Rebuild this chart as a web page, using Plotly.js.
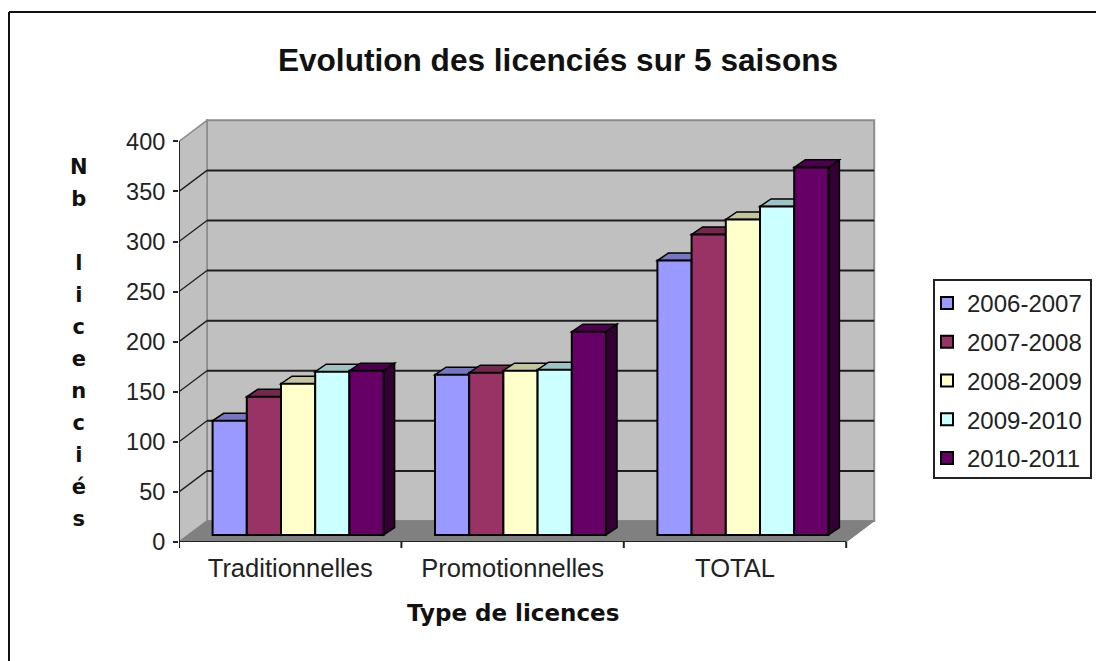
<!DOCTYPE html>
<html><head><meta charset="utf-8">
<script src="https://cdn.plot.ly/plotly-3.0.1.min.js"></script>
<style>html,body{margin:0;padding:0;background:#fff;overflow:hidden}</style>
</head><body><div id="chart" style="width:1096px;height:661px"></div>
<script>
const categories = ["Traditionnelles", "Promotionnelles", "TOTAL"];
const seasons = ["2006-2007", "2007-2008", "2008-2009", "2009-2010", "2010-2011"];
const s0607 = [114, 160, 274];
const s0708 = [138, 162, 300];
const s0809 = [151, 164, 315];
const s0910 = [163, 165, 328];
const s1011 = [164, 203, 367];
const seriesValues = [s0607, s0708, s0809, s0910, s1011];
const frontColors = ["#9999FF", "#993366", "#FFFFCC", "#CCFFFF", "#660066"];
const topColors = ["#7676C4", "#762750", "#C4C49D", "#9DC4C4", "#4E004E"];
const sideColors = ["#4D4D80", "#4D1A33", "#808066", "#668080", "#330033"];
const yTicks = [0, 50, 100, 150, 200, 250, 300, 350, 400];
const axisLabel = "Type de licences";
const yLabelLetters = ["N", "b", "&nbsp;", "l", "i", "c", "e", "n", "c", "i", "é", "s"];

// Geometry of the pseudo-3D box, in axis units
const W = 1096, H = 661, L = 179, R = 876, T = 118, B = 542;
const xUnit = 222.4;                    // px per category
const yMax = 423.3;
const wallDx = 28 / xUnit, wallDy = 21; // depth of the box
const barDx = 11 / xUnit, barDy = 7.5;  // depth of a bar
const barBase = 7;                      // lift of the bar front plane
const barW = 34.2 / xUnit, groupOffset = 33.6 / xUnit;
const nCat = categories.length, yTop = yTicks[yTicks.length - 1];

const poly = pts => "M" + pts.map(p => p[0] + "," + p[1]).join("L") + "Z";
const shapes = [];
const addPoly = (pts, fill, lineColor, lw) => shapes.push({
  type: "path", layer: "below", xref: "x", yref: "y", path: poly(pts),
  fillcolor: fill, line: {color: lineColor, width: lw}
});
const addLine = (x0, y0, x1, y1, color, lw, layer) => shapes.push({
  type: "line", layer: layer || "below", xref: "x", yref: "y", x0, y0, x1, y1, line: {color, width: lw}
});

// walls and floor
addPoly([[wallDx, wallDy], [nCat + wallDx, wallDy], [nCat + wallDx, yTop + wallDy], [wallDx, yTop + wallDy]], "#C0C0C0", "#8C8C8C", 2);
addPoly([[0, 0], [wallDx, wallDy], [wallDx, yTop + wallDy], [0, yTop]], "#C0C0C0", "#8C8C8C", 1.5);
addPoly([[0, 0], [nCat, 0], [nCat + wallDx, wallDy], [wallDx, wallDy]], "#808080", "#808080", 1);

// gridlines
yTicks.slice(1, -1).forEach(v => {
  addLine(wallDx, v + wallDy, nCat + wallDx, v + wallDy, "#1E1E1E", 2);
  addLine(0, v, wallDx, v + wallDy, "#1E1E1E", 1.3);
});

// top and side faces of bars
seriesValues.forEach((vals, s) => vals.forEach((v, g) => {
  const x0 = g + groupOffset + s * barW, x1 = x0 + barW, top = barBase + v;
  addPoly([[x1, barBase], [x1 + barDx, barBase + barDy], [x1 + barDx, top + barDy], [x1, top]], sideColors[s], "#000", 1.5);
  addPoly([[x0, top], [x1, top], [x1 + barDx, top + barDy], [x0 + barDx, top + barDy]], topColors[s], "#000", 1.5);
}));

// axis lines and x ticks
addLine(0, 0, 0, yTop, "#222", 2, "above");
addLine(0, 0, nCat, 0, "#222", 2, "above");
for (let i = 0; i <= nCat; i++) shapes.push({
  type: "line", layer: "above", xref: "x", yref: "paper", x0: i, x1: i,
  y0: 0, y1: -6 / (B - T), line: {color: "#222", width: 2}
});

// outer chart frame and legend box
const px = x => (x - L) / (R - L), py = y => (B - y) / (B - T);
[[9, 12, 1096, 12], [9, 12, 9, 661]].forEach(a => shapes.push({
  type: "line", layer: "above", xref: "paper", yref: "paper",
  x0: px(a[0]), y0: py(a[1]), x1: px(a[2]), y1: py(a[3]), line: {color: "#111", width: 2}
}));
shapes.push({type: "rect", layer: "above", xref: "paper", yref: "paper",
  x0: px(934), x1: px(1091), y0: py(280), y1: py(478), line: {color: "#222", width: 2}});

const traces = seriesValues.map((vals, s) => ({
  type: "bar",
  name: seasons[s],
  legendgroup: seasons[s],
  x: categories.map((_, g) => g + groupOffset + (s + 0.5) * barW),
  y: vals,
  base: barBase,
  width: barW,
  marker: {color: frontColors[s], line: {color: "#000", width: 2}},
  hovertemplate: seasons[s] + ": %{y}<extra></extra>"
}));

const font = "Liberation Sans, Arial, sans-serif";
const bold = "DejaVu Sans, Verdana, sans-serif";
const layout = {
  width: W, height: H, autosize: false,
  margin: {l: L, r: W - R, t: T, b: H - B, pad: 0, autoexpand: false},
  paper_bgcolor: "#fff", plot_bgcolor: "rgba(0,0,0,0)",
  barmode: "overlay",
  showlegend: true,
  title: {text: "<b>Evolution des licenciés sur 5 saisons</b>", font: {family: font, size: 31.6, color: "#111"},
          x: 558 / W, xanchor: "center", y: 1 - 60 / H, yanchor: "middle"},
  xaxis: {range: [0, (R - L) / xUnit], tickmode: "array", tickvals: categories.map((_, g) => g + 0.5),
          ticktext: categories, ticks: "", showgrid: false, zeroline: false, showline: false,
          ticklabelstandoff: 8, tickfont: {family: font, size: 25.5, color: "#222"}, fixedrange: true},
  yaxis: {range: [0, yMax], tickmode: "array", tickvals: yTicks, ticks: "outside", ticklen: 5, tickwidth: 2,
          tickcolor: "#222", showgrid: false, zeroline: false, showline: false, ticklabelstandoff: 3,
          tickfont: {family: font, size: 23.5, color: "#222"}, fixedrange: true},
  legend: {x: px(927), xanchor: "left", y: py(281), yanchor: "top", bgcolor: "rgba(0,0,0,0)",
           borderwidth: 0, tracegroupgap: 4.5, itemclick: false, itemdoubleclick: false,
           font: {family: font, size: 24, color: "#222"}},
  shapes,
  annotations: [
    {text: "<b>" + axisLabel + "</b>", xref: "paper", yref: "paper", x: px(513), y: py(613), showarrow: false,
     xanchor: "center", yanchor: "middle", font: {family: bold, size: 23, color: "#111"}},
    {text: yLabelLetters.map(c => '<b><span style="font-size:21px">' + c + "</span></b>").join("<br>"),
     xref: "paper", yref: "paper", x: px(79), y: py(343), showarrow: false, align: "center",
     xanchor: "center", yanchor: "middle", font: {family: bold, size: 24.6, color: "#111"}}
  ]
};
Plotly.newPlot("chart", traces, layout, {displayModeBar: false, staticPlot: true});
</script></body></html>
